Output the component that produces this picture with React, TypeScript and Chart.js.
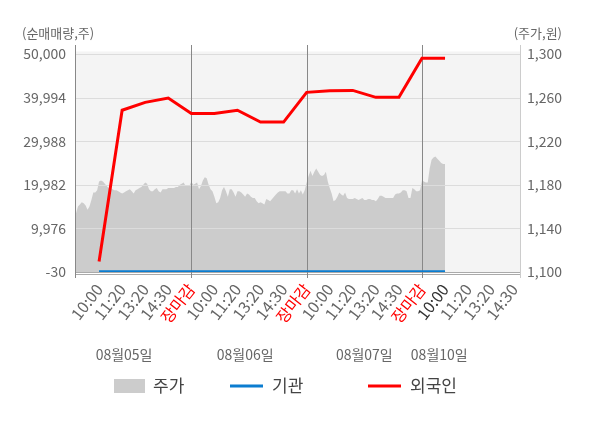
import { useEffect, useRef } from "react";
import { Chart, registerables } from "chart.js";

Chart.register(...registerables);

const FONT = '"Noto Sans CJK KR", "Noto Sans", sans-serif';

const dayLabels = ["08월05일", "08월06일", "08월07일", "08월10일"];
const timeLabels = ["10:00", "11:20", "13:20", "14:30", "장마감"];
const volumeTicks = [-30, 9976, 19982, 29988, 39994, 50000];
const priceTicks = [1100, 1140, 1180, 1220, 1260, 1300];

// 주가 (원), intraday from 08/05 09:00 to 08/10 10:00
const price = [
  1154, 1160, 1162, 1164, 1163, 1161, 1157, 1160, 1166, 1173,
  1173, 1175, 1183, 1184, 1183, 1181, 1179, 1177, 1177, 1176,
  1175, 1175, 1174, 1173, 1172, 1173, 1174, 1175, 1176, 1174,
  1172, 1175, 1176, 1177, 1178, 1180, 1182, 1181, 1176, 1174,
  1174, 1176, 1177, 1174, 1173, 1176, 1176, 1176, 1177, 1177,
  1177, 1177, 1178, 1178, 1180, 1181, 1182, 1179, 1179, 1179,
  1183, 1180, 1181, 1182, 1176, 1179, 1184, 1187, 1186, 1180,
  1176, 1174, 1169, 1163, 1164, 1168, 1175, 1178, 1174, 1169,
  1176, 1176, 1173, 1169, 1174, 1174, 1173, 1171, 1169, 1172,
  1171, 1169, 1168, 1168, 1165, 1163, 1164, 1163, 1162, 1167,
  1166, 1165, 1167, 1169, 1171, 1173, 1174, 1174, 1174, 1174,
  1172, 1172, 1175, 1175, 1172, 1176, 1172, 1175, 1171, 1175,
  1182, 1188, 1193, 1188, 1192, 1195, 1192, 1189, 1188, 1189,
  1192, 1183, 1177, 1172, 1165, 1166, 1169, 1173, 1171, 1170,
  1173, 1168, 1167, 1167, 1167, 1168, 1167, 1166, 1167, 1168,
  1166, 1166, 1167, 1167, 1166, 1166, 1165, 1167, 1170, 1170,
  1169, 1168, 1168, 1168, 1168, 1168, 1171, 1172, 1172, 1173,
  1175, 1175, 1174, 1168, 1168, 1177, 1176, 1174, 1174, 1175,
  1184, 1183, 1182, 1182, 1195, 1203, 1205, 1206, 1204, 1202,
  1200, 1199, 1199,
];

// 순매매량 (주) at each time label, 08/05 10:00 .. 08/10 10:00
const institution = [0, 0, 0, 0, 0, 0, 0, 0, 0, 0, 0, 0, 0, 0, 0, 0];
const foreign = [
  2400, 37100, 38900, 39900, 36350, 36350, 37100, 34380,
  34380, 41200, 41580, 41650, 40060, 40060, 49020, 49020,
];

const STEP = 12; // slots between two time labels
const SLOTS = 232;
const dateLabelAt = [25, 88, 150, 189];

const xLabels = Array.from({ length: SLOTS }, (_, i) =>
  i > 0 && i % STEP === 0 ? timeLabels[(i / STEP - 1) % timeLabels.length] : ""
);
const closeIdx = xLabels.flatMap((l, i) => (l === "장마감" ? [i] : []));
const lastIdx = foreign.length * STEP;

const atTimeSlots = (values: number[]) => {
  const out: (number | null)[] = new Array(SLOTS).fill(null);
  values.forEach((v, k) => {
    out[(k + 1) * STEP] = v;
  });
  return out;
};

const decor = {
  id: "decor",
  beforeDatasetsDraw(chart: any) {
    const { ctx, chartArea: a } = chart;
    ctx.save();
    ctx.fillStyle = "#f4f4f4";
    ctx.fillRect(a.left, a.top - 2.5, a.right - a.left, a.bottom - a.top + 2.5);
    ctx.restore();
  },
  afterDatasetDraw(chart: any, args: any) {
    if (args.index !== 0) return;
    const { ctx, chartArea: a, scales } = chart;
    const line = (x1: number, y1: number, x2: number, y2: number) => {
      ctx.beginPath();
      ctx.moveTo(x1, y1);
      ctx.lineTo(x2, y2);
      ctx.stroke();
    };
    ctx.save();
    ctx.lineWidth = 1;
    ctx.strokeStyle = "#dcdcdc";
    volumeTicks.slice(1).forEach((v) => {
      const y = Math.round(scales.y.getPixelForValue(v)) + 0.5;
      line(a.left, y, a.right, y);
    });
    ctx.strokeStyle = "#aaaaaa";
    line(a.left, a.bottom + 0.5, a.right, a.bottom + 0.5);
    line(a.left, a.bottom + 2.5, a.right, a.bottom + 2.5);
    ctx.strokeStyle = "#888888";
    closeIdx.forEach((i) => {
      const x = Math.round(scales.x.getPixelForValue(i)) + 0.5;
      line(x, a.top - 9, x, a.bottom + 6);
    });
    line(a.left - 0.5, a.top - 9, a.left - 0.5, a.bottom + 6);
    ctx.strokeStyle = "#cccccc";
    line(a.right + 0.5, a.top - 9, a.right + 0.5, a.bottom + 6);
    ctx.restore();
  },
  afterDraw(chart: any) {
    const { ctx, scales } = chart;
    ctx.save();
    ctx.textBaseline = "middle";
    ctx.font = `13px ${FONT}`;
    ctx.fillStyle = "#666666";
    ctx.textAlign = "left";
    ctx.fillText("(순매매량,주)", 22, 33);
    ctx.textAlign = "right";
    ctx.fillText("(주가,원)", 562, 33);

    ctx.font = `14px ${FONT}`;
    ctx.textAlign = "center";
    dayLabels.forEach((d, k) => {
      ctx.fillText(d, scales.x.getPixelForValue(dateLabelAt[k]), 354.5);
    });

    // legend
    const ds = chart.data.datasets;
    ctx.textAlign = "left";
    ctx.font = `17px ${FONT}`;
    ctx.fillStyle = ds[0].backgroundColor;
    ctx.fillRect(114, 379, 31, 14);
    ctx.fillStyle = "#444444";
    ctx.fillText(ds[0].label, 153, 386);
    [
      [ds[1], 230, 272],
      [ds[2], 368, 410],
    ].forEach(([d, x0, tx]: any) => {
      ctx.strokeStyle = d.borderColor;
      ctx.lineWidth = 3;
      ctx.beginPath();
      ctx.moveTo(x0, 386);
      ctx.lineTo(x0 + 33, 386);
      ctx.stroke();
      ctx.fillStyle = "#444444";
      ctx.fillText(d.label, tx, 386);
    });
    ctx.restore();
  },
};

const PriceFlowChart = () => {
  const canvasRef = useRef<HTMLCanvasElement | null>(null);

  useEffect(() => {
    const ctx = canvasRef.current?.getContext("2d");
    if (!ctx) return;

    const tickFont = { family: FONT, size: 14 };

    const chart = new Chart(ctx, {
      type: "line",
      data: {
        labels: xLabels,
        datasets: [
          {
            label: "주가",
            data: price,
            yAxisID: "y1",
            backgroundColor: "#cccccc",
            borderWidth: 0,
            pointRadius: 0,
            fill: "start",
            order: 3,
          },
          {
            label: "기관",
            data: atTimeSlots(institution),
            yAxisID: "y",
            borderColor: "#0b7dd0",
            borderWidth: 3,
            pointRadius: 0,
            spanGaps: true,
            fill: false,
            order: 2,
          },
          {
            label: "외국인",
            data: atTimeSlots(foreign),
            yAxisID: "y",
            borderColor: "#ff0000",
            borderWidth: 3,
            pointRadius: 0,
            spanGaps: true,
            fill: false,
            order: 1,
          },
        ],
      },
      options: {
        responsive: false,
        animation: false,
        events: [],
        layout: { padding: { top: 54, left: 0, right: 0, bottom: 0 } },
        plugins: {
          legend: { display: false },
          tooltip: { enabled: false },
        },
        scales: {
          x: {
            type: "category",
            grid: { display: false, drawTicks: false },
            border: { display: false },
            afterFit: (s: any) => {
              s.height = 156;
            },
            ticks: {
              autoSkip: false,
              minRotation: 52,
              maxRotation: 52,
              padding: 8,
              font: { family: FONT, size: 16 },
              color: (c: any) =>
                xLabels[c.index] === "장마감"
                  ? "#ff0000"
                  : c.index === lastIdx
                  ? "#333333"
                  : "#666666",
            },
          },
          y: {
            position: "left",
            min: -30,
            max: 50000,
            grid: { display: false, drawTicks: false },
            border: { display: false },
            afterFit: (s: any) => {
              s.width = 76;
            },
            afterBuildTicks: (s: any) => {
              s.ticks = volumeTicks.map((v) => ({ value: v }));
            },
            ticks: {
              padding: 10,
              font: tickFont,
              color: "#666666",
              callback: (v: any) => Number(v).toLocaleString("en-US"),
            },
          },
          y1: {
            position: "right",
            min: 1100,
            max: 1300,
            grid: { display: false, drawTicks: false },
            border: { display: false },
            afterFit: (s: any) => {
              s.width = 80;
            },
            afterBuildTicks: (s: any) => {
              s.ticks = priceTicks.map((v) => ({ value: v }));
            },
            ticks: {
              padding: 7,
              font: tickFont,
              color: "#666666",
              callback: (v: any) => Number(v).toLocaleString("en-US"),
            },
          },
        },
      },
      plugins: [decor],
    });

    return () => {
      chart.destroy();
    };
  }, []);

  return (
    <canvas
      ref={canvasRef}
      width={600}
      height={428}
      style={{ width: 600, height: 428, display: "block" }}
    />
  );
};

export default function App() {
  return (
    <div style={{ position: "absolute", left: 0, top: 0, width: 600, height: 428, background: "#fff" }}>
      <PriceFlowChart />
    </div>
  );
}
